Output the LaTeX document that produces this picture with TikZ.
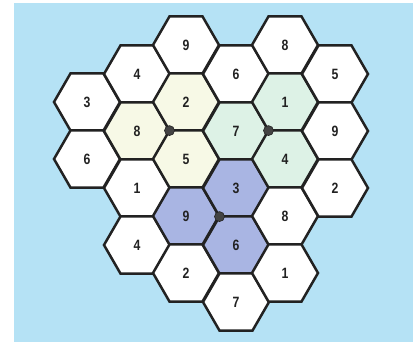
\documentclass[tikz,border=0pt]{standalone}
\usepackage{fontspec}
\setmainfont{Liberation Sans}[FakeStretch=0.82]
\usetikzlibrary{shapes.geometric}
\definecolor{skyblue}{HTML}{B5E2F5}
\definecolor{paleyellow}{HTML}{F7F9E6}
\definecolor{palegreen}{HTML}{DDF2E6}
\definecolor{lavender}{HTML}{A9B5E3}
\definecolor{hexline}{HTML}{222222}
\begin{document}
\begin{tikzpicture}[x=1bp, y=-1bp]
  \tikzstyle{hex} = [regular polygon, regular polygon sides=6, draw=hexline, line width=2.5bp, fill=white, minimum size=66bp, inner sep=0pt, outer sep=0pt, font=\fontsize{15}{15}\selectfont\bfseries, text=hexline]
  \tikzstyle{dot} = [circle, fill=hexline!85, draw=hexline, line width=0.6bp, minimum size=10bp, inner sep=0pt]

  % Background
  \useasboundingbox (0,0) rectangle (415,344);
  \fill[skyblue] (14,3) rectangle (413,342);

  % Column A
  \node (a3) [hex] at (87,102) {3};
  \node (a6) [hex] at (87,159) {6};

  % Column B
  \node (b4) [hex] at (137,74) {4};
  \node (b8) [hex, fill=paleyellow] at (137,131) {8};
  \node (b1) [hex] at (137,188) {1};
  \node (b4x) [hex] at (137,245) {4};

  % Column C
  \node (c9) [hex] at (186,45) {9};
  \node (c2) [hex, fill=paleyellow] at (186,102) {2};
  \node (c5) [hex, fill=paleyellow] at (186,159) {5};
  \node (c9x) [hex, fill=lavender] at (186,216) {9};
  \node (c2x) [hex] at (186,273) {2};

  % Column D
  \node (d6) [hex] at (236,74) {6};
  \node (d7) [hex, fill=palegreen] at (236,131) {7};
  \node (d3) [hex, fill=lavender] at (236,188) {3};
  \node (d6x) [hex, fill=lavender] at (236,245) {6};
  \node (d7x) [hex] at (236,302) {7};

  % Column E
  \node (e8) [hex] at (285,45) {8};
  \node (e1) [hex, fill=palegreen] at (285,102) {1};
  \node (e4) [hex, fill=palegreen] at (285,159) {4};
  \node (e8x) [hex] at (285,216) {8};
  \node (e1x) [hex] at (285,273) {1};

  % Column F
  \node (f5) [hex] at (335,74) {5};
  \node (f9) [hex] at (335,131) {9};
  \node (f2) [hex] at (335,188) {2};

  % Cluster corners
  \node (yellowdot) [dot] at (c2.240) {};
  \node (greendot) [dot] at (e1.240) {};
  \node (bluedot) [dot] at (d3.240) {};

\end{tikzpicture}
\end{document}
